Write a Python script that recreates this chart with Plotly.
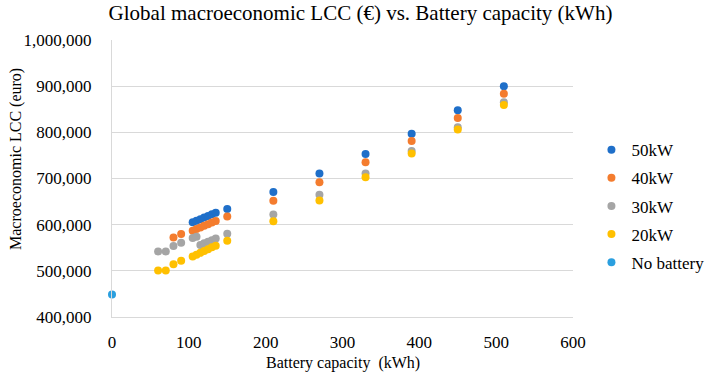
import plotly.graph_objects as go

# ---- data ----
x_50 = [105, 110, 115, 120, 125, 130, 135, 150, 210, 270, 330, 390, 450, 510]
y_50 = [605000, 608500, 612000, 615500, 619000, 622500, 626000, 634000,
        671000, 711000, 753000, 797000, 848000, 900000]

x_40 = [80, 90, 105, 110, 115, 120, 125, 130, 135, 150, 210, 270, 330, 390, 450, 510]
y_40 = [572000, 580000, 587000, 590500, 594000, 597500, 601000, 604500, 608000,
        617500, 652000, 692000, 735000, 781000, 831000, 883500]

x_30 = [60, 70, 80, 90, 105, 110, 115, 120, 125, 130, 135, 150, 210, 270, 330, 390, 450, 510]
y_30 = [542000, 542000, 554000, 561000, 571000, 574000, 556000, 559500, 563000,
        566500, 570000, 580500, 622000, 665000, 711000, 759500, 811000, 865000]

x_20 = [60, 70, 80, 90, 105, 110, 115, 120, 125, 130, 135, 150, 210, 270, 330, 390, 450, 510]
y_20 = [500500, 500500, 514000, 522000, 531000, 535000, 539000, 543000, 547000,
        551000, 554500, 565000, 607500, 652500, 702500, 754000, 806000, 859000]

x_nb = [0]
y_nb = [449000]

series_names = ["50kW", "40kW", "30kW", "20kW", "No battery"]
series_x = [x_50, x_40, x_30, x_20, x_nb]
series_y = [y_50, y_40, y_30, y_20, y_nb]
colors = ["#1F6FC9", "#F47C2E", "#A5A5A5", "#FFC000", "#2A9FDF"]

x_title = "Battery capacity\u00a0 (kWh)"
y_title = "Macroeconomic LCC (euro)"
chart_title = "Global macroeconomic LCC (€) vs. Battery capacity (kWh)"

FONT = "Liberation Serif, Times New Roman, serif"

W, H = 721, 375
ML, MR, MT, MB = 112, 129, 40, 58
PW, PH = W - ML - MR, H - MT - MB

fig = go.Figure()
for nm, xs, ys, c in zip(series_names, series_x, series_y, colors):
    fig.add_trace(go.Scatter(
        x=xs, y=ys, mode="markers", name=nm,
        marker=dict(color=c, size=8, line=dict(width=0)),
        cliponaxis=False, legendgroup=nm,
    ))

fig.update_layout(
    width=W, height=H,
    margin=dict(l=ML, r=MR, t=MT, b=MB),
    paper_bgcolor="white", plot_bgcolor="white",
    font=dict(family=FONT, color="#000000", size=17),
    title=dict(text=chart_title,
               x=0.5, xanchor="center", y=0.966, yanchor="middle",
               font=dict(family=FONT, size=21, color="#000000")),
    legend=dict(x=1.04, xanchor="left", y=0.40, yanchor="middle",
                font=dict(family=FONT, size=17, color="#000000"),
                traceorder="grouped", tracegroupgap=3,
                bgcolor="rgba(0,0,0,0)"),
    showlegend=True,
    annotations=[
        dict(text=x_title, xref="paper", yref="paper",
             x=0.5, y=-(363 - (MT + PH)) / PH, xanchor="center", yanchor="middle",
             showarrow=False, font=dict(family=FONT, size=16, color="#000000")),
        dict(text=y_title, xref="paper", yref="paper",
             x=(12 - ML) / PW, y=(MT + PH - 159) / PH, xanchor="center", yanchor="middle",
             textangle=-90, showarrow=False,
             font=dict(family=FONT, size=16, color="#000000")),
    ],
)
fig.update_xaxes(
    range=[0, 600], dtick=100, tick0=0,
    showgrid=False, zeroline=False,
    showline=True, linecolor="#D9D9D9", linewidth=1,
    ticks="", ticklabelstandoff=10, automargin=False,
    tickfont=dict(family=FONT, size=17),
)
fig.update_yaxes(
    range=[400000, 1000000], dtick=100000, tick0=400000,
    tickformat=",d",
    showgrid=True, gridcolor="#D9D9D9", gridwidth=1,
    zeroline=False,
    showline=True, linecolor="#D9D9D9", linewidth=1,
    ticks="", ticklabelstandoff=16, automargin=False,
    tickfont=dict(family=FONT, size=17),
)

fig.write_html(
    "out.html",
    config={"displayModeBar": False},
    post_script="document.body.style.margin='0';document.body.style.padding='0';"
                "document.body.style.overflow='hidden';",
)
